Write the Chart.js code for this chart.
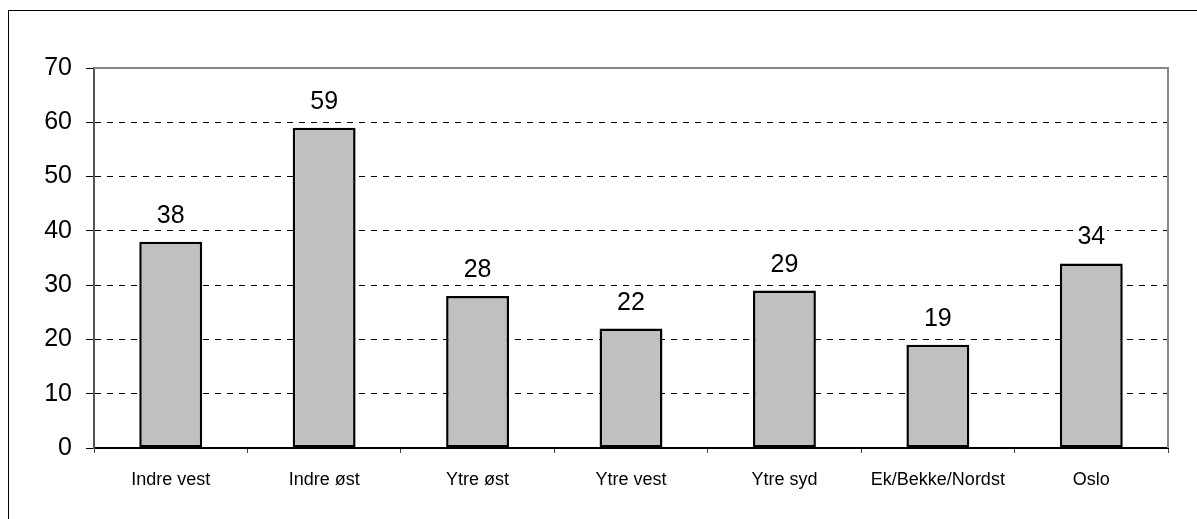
<!DOCTYPE html>
<html>
<head>
<meta charset="utf-8">
<script src="https://cdn.jsdelivr.net/npm/chart.js@4.4.1/dist/chart.umd.min.js"></script>
<style>
  html, body { margin: 0; padding: 0; background: #fff; }
  #wrap { width: 1197px; height: 519px; position: relative; }
</style>
</head>
<body>
<div id="wrap"><canvas id="chart"></canvas></div>
<script>
// data
const categories = ['Indre vest', 'Indre øst', 'Ytre øst', 'Ytre vest', 'Ytre syd', 'Ek/Bekke/Nordst', 'Oslo'];
const values = [38, 59, 28, 22, 29, 19, 34];
const yTicks = [0, 10, 20, 30, 40, 50, 60, 70];

const FONT = "'Liberation Sans', Arial, Helvetica, sans-serif";

// value labels above each bar (white box hides the dashed grid behind)
const valueLabels = {
    id: 'valueLabels',
    afterDatasetsDraw(chart) {
        const ctx = chart.ctx;
        const meta = chart.getDatasetMeta(0);
        ctx.save();
        ctx.font = '25px ' + FONT;
        ctx.textAlign = 'center';
        ctx.textBaseline = 'alphabetic';
        meta.data.forEach((bar, i) => {
            let txt = String(values[i]);
            let w = ctx.measureText(txt).width;
            let y = bar.y - 19;
            ctx.fillStyle = '#fff';
            ctx.fillRect(bar.x - w / 2 - 2, y - 20, w + 4, 22);
            ctx.fillStyle = '#000';
            ctx.fillText(txt, bar.x, y);
        });
        ctx.restore();
    }
};

// gray top/right frame of plot area + outer frame of the picture
const frame = {
    id: 'frame',
    beforeDraw(chart) {
        const ctx = chart.ctx;
        ctx.save();
        ctx.fillStyle = '#000';
        ctx.fillRect(8, 10, chart.width - 8, 1);
        ctx.fillRect(8, 10, 1, chart.height - 10);
        ctx.restore();
    },
    afterDraw(chart) {
        const a = chart.chartArea;
        const ctx = chart.ctx;
        ctx.save();
        ctx.strokeStyle = '#888';
        ctx.lineWidth = 2;
        ctx.beginPath();
        ctx.moveTo(a.left, a.top);
        ctx.lineTo(a.right, a.top);
        ctx.lineTo(a.right, a.bottom);
        ctx.stroke();
        ctx.restore();
    }
};

var chart = new Chart(document.getElementById('chart'), {
    type: 'bar',
    data: {
        labels: categories,
        datasets: [{
            data: values,
            backgroundColor: '#c0c0c0',
            borderColor: '#000',
            borderWidth: 2.5,
            borderSkipped: false,
            categoryPercentage: 1,
            barPercentage: 0.41
        }]
    },
    options: {
        responsive: true,
        maintainAspectRatio: false,
        animation: false,
        layout: { padding: { left: 0, top: 68, right: 29, bottom: 0 } },
        plugins: {
            legend: { display: false },
            tooltip: { enabled: false }
        },
        scales: {
            x: {
                afterFit: (s) => { s.height = 71; },
                grid: {
                    drawOnChartArea: false,
                    tickLength: 5,
                    tickColor: '#444',
                    tickWidth: 1
                },
                border: { color: '#000', width: 2 },
                ticks: {
                    color: '#000',
                    padding: 16,
                    maxRotation: 0,
                    autoSkip: false,
                    font: { family: FONT, size: 18 }
                }
            },
            y: {
                min: 0,
                max: 70,
                afterFit: (s) => { s.width = 94; },
                afterBuildTicks: (s) => { s.ticks = yTicks.map(v => ({ value: v })); },
                grid: {
                    color: (c) => (c.tick && (c.tick.value === 0 || c.tick.value === 70)) ? 'rgba(0,0,0,0)' : '#000',
                    lineWidth: 1,
                    tickLength: 8,
                    tickColor: '#000',
                    tickWidth: 1,
                    tickBorderDash: []
                },
                border: { color: '#555', width: 2, dash: [6, 6] },
                ticks: {
                    color: '#000',
                    padding: 14,
                    font: { family: FONT, size: 25 }
                }
            }
        }
    },
    plugins: [valueLabels, frame]
});
</script>
</body>
</html>
